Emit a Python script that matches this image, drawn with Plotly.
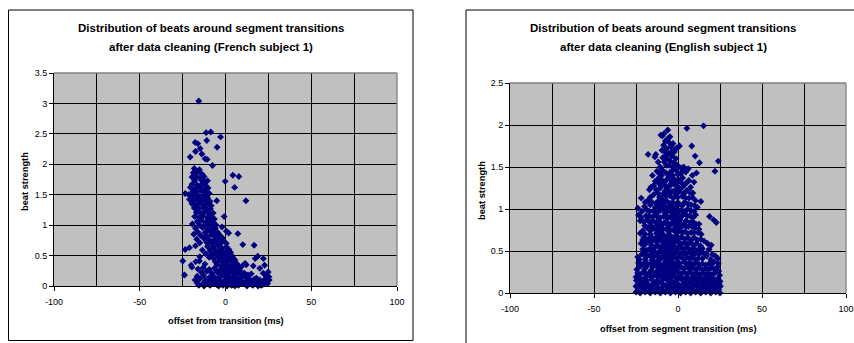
import plotly.graph_objects as go

W, H = 854, 343

# ---- data: (offset ms, beat strength) ----
french_points = [
    (-15.6, 3.04), (-11.3, 2.52), (-8.6, 2.53), (-2.9, 2.45), (-17.7, 2.36), (-16.2, 2.34), (-14.8, 2.26),
    (-10.9, 2.39), (-4.9, 2.28), (-20.6, 2.12), (-17.5, 2.21), (-13.8, 2.17), (-11.9, 2.09), (-10.7, 2.08),
    (-7.6, 1.98), (4.3, 1.82), (7.8, 1.80), (-0.2, 1.72), (5.3, 1.62), (11.9, 1.40), (-5.1, 1.40), (-0.8, 1.14),
    (-18.2, 1.93), (-15.2, 1.91), (-18.8, 1.86), (-16.5, 1.87), (-13.8, 1.84), (-12.5, 1.80),
    (-19.5, 1.79), (-17.0, 1.80), (-15.0, 1.77),
    (-18.0, 1.73), (-14.2, 1.74), (-12.0, 1.71), (-10.5, 1.73),
    (-19.5, 1.67), (-16.5, 1.66), (-13.5, 1.68), (-11.2, 1.64),
    (-20.5, 1.62), (-17.8, 1.60), (-15.0, 1.62), (-12.5, 1.58), (-10.2, 1.61),
    (-19.2, 1.55), (-16.5, 1.55), (-14.0, 1.56), (-11.5, 1.55), (-9.5, 1.52),
    (-23.5, 1.52), (-21.5, 1.50),
    (-20.0, 1.47), (-17.5, 1.49), (-15.2, 1.47), (-12.8, 1.48), (-10.5, 1.45),
    (-21.0, 1.42), (-18.5, 1.41), (-16.2, 1.43), (-14.0, 1.40), (-11.8, 1.41), (-9.0, 1.39),
    (-19.5, 1.35), (-17.0, 1.34), (-15.0, 1.36), (-12.5, 1.33), (-10.2, 1.35), (-8.3, 1.32),
    (-18.2, 1.28), (-15.8, 1.27), (-13.2, 1.29), (-11.0, 1.26), (-8.8, 1.27),
    (-17.0, 1.21), (-14.5, 1.20), (-12.2, 1.22), (-9.8, 1.19), (-7.2, 1.20),
    (-18.0, 1.14), (-15.5, 1.13), (-13.0, 1.15), (-10.5, 1.12), (-8.2, 1.14), (-6.5, 1.10),
    (-16.5, 1.06), (-14.0, 1.08), (-11.5, 1.05), (-9.0, 1.07), (-7.0, 1.04),
    (-19.3, 1.02), (-15.2, 1.00), (-12.8, 0.99), (-10.2, 1.01), (-7.8, 0.98), (-5.5, 1.00),
    (-17.5, 0.95), (-13.5, 0.96), (-10.5, 0.94), (-8.0, 0.92), (-6.0, 0.95), (-2.0, 0.97),
    (-16.2, 0.89), (-12.0, 0.88), (-9.2, 0.90), (-6.8, 0.87), (-4.5, 0.88), (0.5, 0.90),
    (-18.5, 0.85), (-14.5, 0.83), (-10.8, 0.82), (-8.0, 0.84), (-5.5, 0.81), (-3.2, 0.83), (-1.8, 0.79),
    (1.8, 0.87), (7.2, 0.86),
    (-16.8, 0.77), (-12.5, 0.78), (-9.5, 0.76), (-6.8, 0.75), (-4.2, 0.77), (-1.5, 0.74),
    (-15.0, 0.71), (-11.0, 0.72), (-8.2, 0.70), (-5.8, 0.72), (-3.2, 0.69), (0.5, 0.70),
    (-17.5, 0.66), (-10.5, 0.65), (-7.2, 0.64), (-4.5, 0.66), (-2.0, 0.62), (0.5, 0.64), (2.0, 0.60),
    (10.1, 0.68), (16.7, 0.67),
    (-23.5, 0.60), (-21.0, 0.63), (-13.5, 0.59), (-9.0, 0.58), (-6.5, 0.60), (-4.0, 0.57), (-1.2, 0.56),
    (1.2, 0.58), (3.0, 0.55),
    (-11.5, 0.53), (-8.0, 0.52), (-5.8, 0.54), (-3.0, 0.51), (-0.5, 0.52), (2.2, 0.50), (4.0, 0.49),
    (-15.0, 0.48), (-9.5, 0.47), (-7.0, 0.45), (-4.5, 0.48), (-2.0, 0.46), (0.5, 0.45), (3.0, 0.44),
    (5.5, 0.43), (17.3, 0.45), (18.8, 0.49),
    (-24.9, 0.41), (-17.3, 0.40), (-15.2, 0.41), (-6.0, 0.40), (-3.5, 0.42), (-1.0, 0.39), (1.5, 0.40),
    (4.5, 0.38), (6.5, 0.37), (22.1, 0.45),
    (-20.0, 0.34), (-12.0, 0.36), (-5.0, 0.35), (-2.5, 0.33), (-0.5, 0.36), (1.5, 0.32), (3.5, 0.34), (5.5, 0.31),
    (7.5, 0.33), (9.4, 0.32), (11.4, 0.37), (12.1, 0.35), (22.8, 0.34), (16.2, 0.33),
    (-19.6, 0.31), (-16.0, 0.28), (-13.0, 0.30), (-9.5, 0.27), (-6.5, 0.29), (-3.5, 0.26), (-1.5, 0.28), (0.5, 0.25),
    (2.5, 0.29), (4.5, 0.26), (6.5, 0.28), (8.5, 0.25), (20.0, 0.29),
    (-14.0, 0.22), (-11.0, 0.24), (-8.0, 0.21), (-5.0, 0.23), (-3.0, 0.20), (-1.0, 0.22), (1.0, 0.19), (3.0, 0.23),
    (5.0, 0.20), (7.0, 0.22), (9.0, 0.19), (11.0, 0.21), (13.0, 0.18), (15.0, 0.20), (24.9, 0.23), (22.0, 0.21),
    (-23.9, 0.18), (-16.5, 0.16), (-12.8, 0.17), (-9.5, 0.14), (-7.0, 0.16), (-4.5, 0.13), (-2.2, 0.17), (0.0, 0.14),
    (2.0, 0.16), (4.0, 0.13), (6.0, 0.15), (8.0, 0.12), (10.0, 0.16), (12.0, 0.14), (14.0, 0.11), (18.0, 0.13),
    (23.5, 0.17), (25.3, 0.15),
    (-17.8, 0.10), (-15.0, 0.12), (-11.8, 0.09), (-8.5, 0.11), (-6.0, 0.08), (-3.5, 0.10), (-1.2, 0.07), (1.0, 0.10),
    (3.0, 0.08), (5.0, 0.11), (7.0, 0.07), (9.0, 0.09), (11.0, 0.06), (13.0, 0.09), (15.0, 0.07), (16.8, 0.11),
    (18.5, 0.08), (20.0, 0.10), (21.5, 0.07), (23.0, 0.11), (24.5, 0.08), (25.5, 0.10),
    (-16.5, 0.05), (-13.5, 0.03), (-10.5, 0.06), (-7.5, 0.04), (-5.0, 0.02), (-2.5, 0.05), (0.0, 0.03), (2.0, 0.05),
    (4.0, 0.02), (6.0, 0.04), (8.0, 0.03), (10.0, 0.05), (12.0, 0.02), (13.8, 0.04), (15.5, 0.02), (17.0, 0.05),
    (18.5, 0.03), (20.0, 0.04), (21.5, 0.02), (23.0, 0.05), (24.5, 0.04),
    (-15.5, 0.01), (-12.5, 0.00), (-9.0, 0.01), (-4.0, 0.00), (-1.5, 0.01), (1.0, 0.00), (3.5, 0.01), (5.5, 0.00),
    (7.5, 0.01), (12.5, 0.00), (16.0, 0.01), (19.0, 0.00), (20.8, 0.01),
]

english_points = [
    (15.2, 1.99), (5.3, 1.96), (-6.1, 1.94), (-10.2, 1.88), (-9.4, 1.87), (-7.5, 1.81), (-5.2, 1.79), (-8.6, 1.76),
    (-6.8, 1.72), (-4.3, 1.74), (-1.8, 1.71), (-0.6, 1.73), (0.9, 1.75), (8.2, 1.75), (-2.2, 1.68), (-7.8, 1.68),
    (-5.6, 1.66), (-3.6, 1.63), (-17.8, 1.65), (-13.2, 1.65), (-13.8, 1.62), (10.2, 1.63), (-9.1, 1.61),
    (-6.5, 1.60), (-4.6, 1.57), (-2.4, 1.55), (12.8, 1.55), (24.0, 1.57), (-8.1, 1.56), (-5.3, 1.52),
    (-0.4, 1.52), (3.4, 1.50), (-10.6, 1.50), (6.1, 1.48), (22.0, 1.45), (11.0, 1.43), (1.8, 1.49),
    (-11.8, 1.56), (-7.0, 1.52), (-3.0, 1.50), (-1.2, 1.60), (-7.2, 1.64), (-4.0, 1.68), (-9.5, 1.70),
    (-6.0, 1.84), (-3.0, 1.78), (-8.2, 1.90), (-4.8, 1.86),
    (-12.5, 1.45), (-9.2, 1.46), (-7.1, 1.43), (-3.8, 1.45), (-1.1, 1.46), (1.5, 1.42), (4.6, 1.44), (8.5, 1.40),
    (-15.2, 1.40), (-11.0, 1.38), (-5.5, 1.39), (-2.6, 1.36), (0.2, 1.35), (2.8, 1.37), (6.4, 1.34), (9.5, 1.32),
    (-13.5, 1.33), (-8.0, 1.32), (-4.2, 1.30), (-0.8, 1.28), (3.8, 1.29), (7.5, 1.26), (-16.1, 1.26),
    (-17.0, 1.23), (-10.5, 1.25), (-6.4, 1.24), (-2.0, 1.22), (1.0, 1.21), (5.2, 1.22), (8.8, 1.19),
    (-12.0, 1.19), (-14.6, 1.17), (-8.8, 1.18), (-4.9, 1.16), (-0.2, 1.14), (2.5, 1.15), (6.6, 1.13),
    (10.5, 1.10), (13.6, 1.09),
    (-9.8, 1.40), (-6.2, 1.36), (-3.2, 1.40), (-7.6, 1.28), (-2.8, 1.30), (-11.2, 1.30), (-5.6, 1.20),
    (-1.2, 1.18), (-9.6, 1.12),
    (-10.8, 1.42), (-5.0, 1.43), (-0.2, 1.41), (3.0, 1.45),
    (-12.2, 1.35), (-9.2, 1.34), (-4.6, 1.35), (-1.5, 1.33), (1.6, 1.32), (5.0, 1.31),
    (-14.5, 1.28), (-9.8, 1.27), (-5.0, 1.27), (0.3, 1.25), (2.6, 1.26),
    (-13.0, 1.23), (-7.8, 1.21), (-3.6, 1.21), (3.4, 1.18), (7.0, 1.20),
    (-16.5, 1.14), (-11.0, 1.14), (-7.0, 1.15), (-2.8, 1.13), (4.5, 1.13), (8.5, 1.14),
    (-21.9, 1.13), (-23.9, 1.01), (-23.5, 0.93), (-18.0, 1.10), (-15.5, 1.08), (-11.5, 1.10), (-7.0, 1.10),
    (-3.2, 1.08), (0.8, 1.06), (4.0, 1.08), (7.8, 1.05), (11.5, 1.02), (-20.0, 1.03), (-13.5, 1.02),
    (-9.5, 1.04), (-5.5, 1.02), (-1.5, 1.00), (2.0, 0.99), (5.8, 1.00), (9.5, 0.97), (-17.0, 0.97),
    (-12.0, 0.96), (-7.8, 0.95), (-4.0, 0.96), (-0.5, 0.93), (3.2, 0.94), (7.0, 0.92), (-22.0, 0.90),
    (-19.0, 0.92), (-15.0, 0.91), (-10.5, 0.90), (-6.2, 0.89), (-2.5, 0.88), (1.2, 0.87), (4.8, 0.86),
    (8.8, 0.85), (12.5, 0.82), (18.8, 0.91), (21.2, 0.87), (22.8, 0.84), (-20.5, 0.85), (-16.8, 0.84),
    (-13.0, 0.84), (-8.5, 0.83), (-4.5, 0.82), (-0.8, 0.80), (2.8, 0.80), (6.2, 0.79), (10.0, 0.78),
    (-18.5, 0.78), (-14.5, 0.77), (-11.0, 0.78), (-6.8, 0.76), (-2.8, 0.75), (0.8, 0.74), (4.2, 0.73),
    (7.8, 0.72), (11.8, 0.72),
    (-9.0, 1.07), (-5.2, 1.07), (-1.0, 1.04), (-10.2, 0.99), (-6.0, 0.98), (-2.0, 0.95), (-8.4, 0.91),
    (-4.4, 0.90), (-0.6, 0.86), (-10.6, 0.84), (-6.4, 0.82), (-2.2, 0.81), (-8.8, 0.76), (-4.6, 0.75),
    (-19.5, 1.08), (-16.5, 1.05), (-13.0, 1.07), (-11.0, 1.04), (-7.5, 1.03), (-3.5, 1.03), (-0.5, 1.07),
    (2.5, 1.04), (6.0, 1.06), (9.8, 1.04),
    (-21.5, 0.97), (-18.5, 0.99), (-14.5, 0.98), (-12.5, 1.00), (-8.0, 0.99), (-3.0, 0.99), (0.5, 0.97),
    (4.0, 0.97), (7.8, 0.98), (10.5, 0.93),
    (-17.0, 0.91), (-13.5, 0.93), (-12.0, 0.90), (-7.0, 0.92), (-3.8, 0.92), (-1.0, 0.90), (2.2, 0.91),
    (5.5, 0.92), (9.0, 0.90),
    (-22.5, 0.86), (-18.5, 0.87), (-15.0, 0.86), (-11.5, 0.86), (-7.0, 0.85), (-2.8, 0.85), (0.8, 0.84),
    (3.8, 0.83), (7.5, 0.84), (10.8, 0.82),
    (-19.8, 0.80), (-16.0, 0.80), (-12.5, 0.81), (-9.8, 0.80), (-5.6, 0.79), (-1.0, 0.77), (1.6, 0.78),
    (4.8, 0.79), (8.5, 0.79), (12.5, 0.76),
    (-21.0, 0.74), (-16.5, 0.74), (-12.8, 0.75), (-10.2, 0.73), (-5.5, 0.73), (-1.0, 0.72), (2.5, 0.72),
    (5.8, 0.71), (9.6, 0.72), (13.8, 0.70),
    (-22.5, 0.71), (-21.0, 0.63), (-19.5, 0.70), (-16.5, 0.70), (-12.8, 0.71), (-9.0, 0.70), (-5.0, 0.69),
    (-1.2, 0.68), (2.2, 0.67), (5.8, 0.66), (9.5, 0.66), (13.5, 0.64), (-17.8, 0.64), (-14.5, 0.63),
    (-10.8, 0.64), (-7.2, 0.63), (-3.5, 0.62), (0.0, 0.61), (3.8, 0.60), (7.5, 0.60), (11.0, 0.59),
    (17.6, 0.59), (-20.0, 0.57), (-16.0, 0.57), (-12.5, 0.57), (-8.8, 0.56), (-5.5, 0.56), (-2.0, 0.55),
    (1.5, 0.54), (5.0, 0.54), (8.8, 0.53), (12.5, 0.52), (-18.5, 0.51), (-14.5, 0.50), (-10.5, 0.51),
    (-7.0, 0.50), (-3.8, 0.49), (-0.2, 0.49), (3.2, 0.48), (6.8, 0.48), (10.2, 0.47), (15.0, 0.48),
    (-21.5, 0.46), (-17.0, 0.45), (-12.8, 0.45), (-9.0, 0.44), (-5.5, 0.44), (-1.8, 0.43), (1.8, 0.43),
    (5.2, 0.42), (8.5, 0.42), (12.0, 0.41), (17.0, 0.44), (22.2, 0.44), (19.5, 0.40),
    (-11.0, 0.68), (-7.0, 0.67), (-3.0, 0.66), (-9.0, 0.60), (-5.2, 0.60), (-1.5, 0.61), (-11.0, 0.55),
    (-7.0, 0.54), (-3.5, 0.54), (-9.0, 0.47), (-5.0, 0.48), (-1.8, 0.48), (0.5, 0.55), (-11.0, 0.42),
    (-7.2, 0.41), (-3.5, 0.41),
    (-20.5, 0.66), (-15.8, 0.67), (-13.0, 0.66), (-9.8, 0.66), (-5.2, 0.65), (-1.5, 0.64), (1.0, 0.65),
    (4.0, 0.64), (7.8, 0.63), (11.6, 0.63), (15.5, 0.62),
    (-22.0, 0.59), (-18.8, 0.60), (-16.0, 0.61), (-12.8, 0.61), (-7.0, 0.58), (-3.5, 0.58), (2.0, 0.58),
    (5.8, 0.58), (9.5, 0.57), (13.5, 0.56), (19.8, 0.57),
    (-21.0, 0.52), (-16.5, 0.53), (-13.8, 0.54), (-9.5, 0.53), (-5.0, 0.52), (-1.2, 0.52), (3.2, 0.52),
    (6.8, 0.52), (10.5, 0.51), (14.5, 0.53), (18.5, 0.52),
    (-19.8, 0.47), (-15.8, 0.47), (-11.8, 0.48), (-7.2, 0.46), (-3.2, 0.46), (1.0, 0.46), (4.8, 0.46),
    (8.5, 0.46), (12.5, 0.46), (16.8, 0.47), (20.5, 0.46),
    (-24.0, 0.43), (-19.0, 0.43), (-15.0, 0.42), (-10.0, 0.42), (-5.0, 0.41), (-0.5, 0.41), (3.5, 0.40),
    (7.0, 0.41), (10.5, 0.40), (14.5, 0.41), (23.8, 0.41),
    (-23.0, 0.40), (-19.5, 0.40), (-15.5, 0.39), (-11.2, 0.39), (-7.5, 0.38), (-3.8, 0.38), (0.0, 0.37),
    (3.8, 0.37), (7.0, 0.36), (10.5, 0.36), (14.5, 0.35), (18.5, 0.35), (21.5, 0.37), (-21.5, 0.34),
    (-17.5, 0.34), (-13.5, 0.33), (-9.5, 0.33), (-5.8, 0.32), (-2.0, 0.32), (1.8, 0.31), (5.5, 0.31),
    (9.0, 0.30), (12.5, 0.30), (16.5, 0.29), (20.0, 0.30), (23.5, 0.31), (-24.5, 0.28), (-20.0, 0.28),
    (-16.0, 0.27), (-12.0, 0.27), (-8.0, 0.26), (-4.0, 0.26), (0.0, 0.25), (3.5, 0.25), (7.2, 0.25),
    (11.0, 0.24), (14.8, 0.24), (18.5, 0.23), (22.0, 0.24), (24.2, 0.26), (-22.5, 0.22), (-18.5, 0.22),
    (-14.2, 0.21), (-10.0, 0.21), (-6.0, 0.20), (-2.0, 0.20), (2.0, 0.19), (5.5, 0.19), (9.2, 0.19),
    (13.0, 0.18), (16.8, 0.18), (20.5, 0.18), (-25.0, 0.19), (23.8, 0.17),
    (-13.0, 0.37), (-5.5, 0.36), (-1.8, 0.35), (-9.8, 0.29), (-6.0, 0.29), (-2.0, 0.28), (-11.8, 0.23),
    (-8.0, 0.22), (-4.0, 0.23),
    (-23.5, 0.36), (-19.5, 0.37), (-15.5, 0.36), (-11.0, 0.35), (-7.5, 0.35), (-3.5, 0.35), (1.0, 0.35),
    (5.2, 0.34), (8.8, 0.34), (12.5, 0.34), (16.5, 0.33), (20.0, 0.34), (24.0, 0.35),
    (-23.0, 0.31), (-19.0, 0.31), (-15.0, 0.31), (-11.5, 0.31), (-7.5, 0.30), (-3.8, 0.30), (0.0, 0.30),
    (3.5, 0.29), (7.2, 0.29), (10.8, 0.28), (14.5, 0.28), (18.2, 0.28), (21.8, 0.28),
    (-24.0, 0.24), (-20.5, 0.25), (-17.0, 0.24), (-13.5, 0.24), (-10.0, 0.25), (-6.0, 0.24), (-2.0, 0.24),
    (1.8, 0.23), (5.5, 0.23), (9.0, 0.22), (12.8, 0.22), (16.8, 0.22), (20.2, 0.22), (24.8, 0.21),
    (-23.0, 0.18), (-19.8, 0.18), (-16.2, 0.19), (-12.0, 0.19), (-8.0, 0.18), (-4.0, 0.18), (0.0, 0.18),
    (3.8, 0.17), (7.5, 0.17), (11.0, 0.17), (15.0, 0.17), (18.5, 0.17), (22.0, 0.16),
    (-24.8, 0.15), (-21.8, 0.14), (-18.8, 0.15), (-15.8, 0.16), (-12.8, 0.14), (-9.8, 0.15), (-6.8, 0.16),
    (-3.8, 0.14), (-0.8, 0.15), (2.2, 0.16), (5.2, 0.14), (8.2, 0.15), (11.2, 0.13), (14.2, 0.15),
    (17.2, 0.14), (20.2, 0.15), (23.2, 0.13), (25.0, 0.14),
    (-23.5, 0.11), (-20.5, 0.12), (-17.5, 0.10), (-14.5, 0.11), (-11.5, 0.12), (-8.5, 0.10), (-5.5, 0.11),
    (-2.5, 0.12), (0.5, 0.10), (3.5, 0.11), (6.5, 0.12), (9.5, 0.10), (12.5, 0.11), (15.5, 0.10),
    (18.5, 0.12), (21.5, 0.10), (24.5, 0.11),
    (-25.0, 0.08), (-22.0, 0.07), (-19.0, 0.08), (-16.0, 0.07), (-13.0, 0.08), (-10.0, 0.06), (-7.0, 0.08),
    (-4.0, 0.07), (-1.0, 0.08), (2.0, 0.06), (5.0, 0.08), (8.0, 0.07), (11.0, 0.08), (14.0, 0.06),
    (17.0, 0.07), (20.0, 0.08), (23.0, 0.06), (25.2, 0.08),
    (-23.8, 0.04), (-20.8, 0.05), (-17.8, 0.03), (-14.8, 0.04), (-11.8, 0.05), (-8.8, 0.03), (-5.8, 0.04),
    (-2.8, 0.05), (0.2, 0.03), (3.2, 0.04), (6.2, 0.05), (9.2, 0.03), (12.2, 0.04), (15.2, 0.03),
    (18.2, 0.05), (21.2, 0.03), (24.2, 0.04),
    (-25.0, 0.01), (-22.5, 0.00), (-19.5, 0.01), (-16.5, 0.00), (-13.5, 0.01), (-10.5, 0.00), (-7.5, 0.01),
    (-4.5, 0.00), (-1.5, 0.01), (1.5, 0.00), (4.5, 0.01), (7.5, 0.00), (10.5, 0.01), (13.5, 0.00),
    (16.5, 0.01), (19.5, 0.00), (22.5, 0.01), (25.0, 0.00),
]

x_ticks = [-100, -50, 0, 50, 100]
x_tick_text = ["-100", "-50", "0", "50", "100"]
french_y_ticks = [0, 0.5, 1, 1.5, 2, 2.5, 3, 3.5]
english_y_ticks = [0, 0.5, 1, 1.5, 2, 2.5]

titles = [
    ("Distribution of beats around segment transitions", "after data cleaning (French subject 1)"),
    ("Distribution of beats around segment transitions", "after data cleaning (English subject 1)"),
]
x_titles = ["offset from transition (ms)", "offset from segment transition (ms)"]
y_title = "beat strength"

NAVY = "#000080"
FONT = "Liberation Sans, Arial, sans-serif"


def px(x):
    return x / W


def py(y):
    return 1 - y / H


fig = go.Figure()
for pts, xa, ya in ((french_points, "x", "y"), (english_points, "x2", "y2")):
    fig.add_trace(go.Scatter(
        x=[p[0] for p in pts], y=[p[1] for p in pts], mode="markers",
        xaxis=xa, yaxis=ya, cliponaxis=False, showlegend=False,
        marker=dict(symbol="diamond", size=5.3, color=NAVY, line=dict(width=0)),
    ))

# plot-area rectangles in pixels: (left, top, right, bottom)
areas = [(54, 73, 397, 286), (510, 83, 846, 293)]
y_ranges = [(0, 3.5, french_y_ticks), (0, 2.5, english_y_ticks)]

GRID_W = 1.3
common_x = dict(
    range=[-100, 100], tickvals=x_ticks, ticktext=x_tick_text, showgrid=True, gridcolor="black", gridwidth=GRID_W,
    minor=dict(dtick=25, showgrid=True, gridcolor="black", gridwidth=GRID_W),
    showline=True, linecolor="black", linewidth=1, ticks="outside", ticklen=4, tickcolor="black",
    zeroline=False, tickfont=dict(family=FONT, size=9, color="black"), ticklabelstandoff=3,
    automargin=False,
)

layout = dict(
    template="none",
    width=W, height=H, margin=dict(l=0, r=0, t=0, b=0),
    paper_bgcolor="white", plot_bgcolor="#C0C0C0", showlegend=False,
)
for i, ((l, t, r, b), (y0, y1, yt)) in enumerate(zip(areas, y_ranges)):
    sfx = "" if i == 0 else "2"
    layout["xaxis" + sfx] = dict(common_x, domain=[px(l), px(r)], anchor="y" + sfx)
    layout["yaxis" + sfx] = dict(
        range=[y0, y1], tickvals=yt, showgrid=True, gridcolor="black", gridwidth=GRID_W,
        showline=True, linecolor="black", linewidth=1, ticks="outside", ticklen=4, tickcolor="black",
        zeroline=False, tickfont=dict(family=FONT, size=9, color="black"), automargin=False,
        domain=[py(b), py(t)], anchor="x" + sfx,
    )
fig.update_layout(**layout)

shapes = []
for (l, t, r, b) in areas:
    # grey plot-area border on top and right
    shapes.append(dict(type="line", xref="paper", yref="paper", x0=px(l), x1=px(r), y0=py(t), y1=py(t),
                       line=dict(color="#808080", width=1.3), layer="above"))
    shapes.append(dict(type="line", xref="paper", yref="paper", x0=px(r), x1=px(r), y0=py(t), y1=py(b),
                       line=dict(color="#808080", width=1.3), layer="above"))
# chart frames
shapes.append(dict(type="rect", xref="paper", yref="paper", x0=px(8.5), x1=px(413), y0=py(340.5), y1=py(10),
                   line=dict(color="black", width=1), fillcolor="rgba(0,0,0,0)"))
shapes.append(dict(type="rect", xref="paper", yref="paper", x0=px(466), x1=px(880), y0=py(370), y1=py(10),
                   line=dict(color="black", width=1), fillcolor="rgba(0,0,0,0)"))
fig.update_layout(shapes=shapes)

ann = []
title_cx = [211, 663]
xt_pos = [(226, 321), (678, 329)]
yt_pos = [(25, 182), (482, 190)]
for i in range(2):
    for line, yy in zip(titles[i], (28, 47)):
        ann.append(dict(text="<b>%s</b>" % line, xref="paper", yref="paper", x=px(title_cx[i]), y=py(yy),
                        xanchor="center", yanchor="middle", showarrow=False,
                        font=dict(family=FONT, size=11.5, color="black")))
    ann.append(dict(text="<b>%s</b>" % x_titles[i], xref="paper", yref="paper",
                    x=px(xt_pos[i][0]), y=py(xt_pos[i][1]), xanchor="center", yanchor="middle",
                    showarrow=False, font=dict(family=FONT, size=9.3, color="black")))
    ann.append(dict(text="<b>%s</b>" % y_title, xref="paper", yref="paper", textangle=-90,
                    x=px(yt_pos[i][0]), y=py(yt_pos[i][1]), xanchor="center", yanchor="middle",
                    showarrow=False, font=dict(family=FONT, size=9.3, color="black")))
fig.update_layout(annotations=ann)

fig.write_html("out.html")
